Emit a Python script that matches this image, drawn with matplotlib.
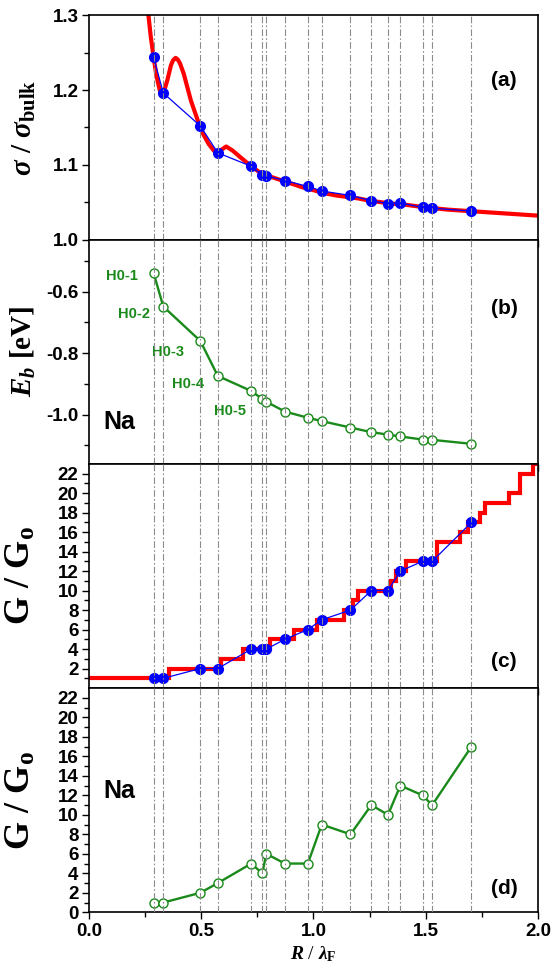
import numpy as np
import matplotlib
matplotlib.use('Agg')
import matplotlib.pyplot as plt
from matplotlib.ticker import FixedLocator, FormatStrFormatter

plt.rcParams['font.family'] = ['Liberation Sans', 'DejaVu Sans']
plt.rcParams['font.weight'] = 'bold'
plt.rcParams['axes.unicode_minus'] = False
plt.rcParams['mathtext.fontset'] = 'custom'
plt.rcParams['mathtext.rm'] = 'Liberation Serif:bold'
plt.rcParams['mathtext.it'] = 'Liberation Serif:italic:bold'
plt.rcParams['mathtext.bf'] = 'Liberation Serif:bold'

# wire radii R / lambda_F of the stable structures
r_wire = [0.288, 0.331, 0.496, 0.574, 0.723, 0.772, 0.790, 0.873, 0.975,
          1.037, 1.165, 1.258, 1.332, 1.387, 1.486, 1.529, 1.704]

# (a) sigma / sigma_bulk
sig_wire = [1.244, 1.196, 1.152, 1.116, 1.098, 1.086, 1.085, 1.079, 1.071,
            1.065, 1.059, 1.052, 1.048, 1.049, 1.043, 1.042, 1.038]
sig_r = [0.265, 0.275, 0.288, 0.300, 0.315, 0.331, 0.349, 0.365, 0.375, 0.386,
         0.395, 0.405, 0.422, 0.454, 0.485, 0.509, 0.533, 0.556, 0.574, 0.590,
         0.611, 0.640, 0.675, 0.723, 0.760, 0.800, 0.850, 0.900, 0.950, 1.000,
         1.050, 1.100, 1.150, 1.200, 1.250, 1.300, 1.350, 1.400, 1.450, 1.500,
         1.600, 1.700, 1.800, 1.900, 2.000]
sig_curve = [1.300, 1.272, 1.244, 1.220, 1.200, 1.195, 1.213, 1.233, 1.240, 1.243,
             1.241, 1.236, 1.222, 1.186, 1.159, 1.141, 1.128, 1.119, 1.116, 1.120,
             1.1245, 1.119, 1.110, 1.098, 1.090, 1.085, 1.080, 1.075, 1.070, 1.066,
             1.062, 1.059, 1.057, 1.055, 1.052, 1.050, 1.048, 1.047, 1.045, 1.043,
             1.040, 1.038, 1.036, 1.034, 1.032]

# (b) binding energy
eb = [-0.539, -0.648, -0.760, -0.874, -0.923, -0.949, -0.958, -0.990, -1.010,
      -1.021, -1.042, -1.057, -1.065, -1.071, -1.081, -1.082, -1.095]
h_names = ['H0-1', 'H0-2', 'H0-3', 'H0-4', 'H0-5']
h_x = [0.147, 0.202, 0.352, 0.443, 0.628]
h_y = [-0.548, -0.671, -0.795, -0.900, -0.987]

# (c) conductance
g_wire = [1, 1, 2, 2, 4, 4, 4, 5, 6, 7, 8, 10, 10, 12, 13, 13, 17]
g_edges = [0, 0.356, 0.588, 0.688, 0.806, 0.912, 1.014, 1.136, 1.177, 1.200,
           1.345, 1.366, 1.414, 1.551, 1.651, 1.689, 1.742, 1.765, 1.872,
           1.922, 1.979, 2.0]
g_steps = [1, 2, 3, 4, 5, 6, 7, 8, 9, 10, 11, 12, 13, 15, 16, 17, 18, 19, 20, 22, 23]

# (d) conductance, Na
g_na = [1, 1, 2, 3, 5, 4, 6, 5, 5, 9, 8, 11, 10, 13, 12, 11, 17]

green = '#1a8a1a'
vcol = '#8c8c8c'

fig, axes = plt.subplots(4, 1, figsize=(5.54, 9.75), dpi=100, sharex=True)
fig.subplots_adjust(left=0.1606, right=0.971, top=0.9843, bottom=0.0643, hspace=0)
ax1, ax2, ax3, ax4 = axes

# Plotting
ax1.plot(sig_r, sig_curve, color='red', lw=3, zorder=2, solid_capstyle='round')
ax1.plot(r_wire, sig_wire, color='blue', lw=0.9, marker='o', ms=7, zorder=3)

ax2.plot(r_wire, eb, color=green, lw=1.7, marker='o', ms=6.5, mfc='white',
         mec=green, mew=1, zorder=3)
for name, x, y in zip(h_names, h_x, h_y):
    ax2.text(x, y, name, color=green, fontsize=10.5, ha='center', va='center')

ax3.stairs(g_steps, g_edges, color='red', lw=3, baseline=None, zorder=2)
ax3.plot(r_wire, g_wire, color='blue', lw=0.9, marker='o', ms=7, zorder=3)

ax4.plot(r_wire, g_na, color=green, lw=1.7, marker='o', ms=6.5, mfc='white',
         mec=green, mew=1, zorder=3)

for ax in axes:
    for r in r_wire:
        ax.axvline(r, color=vcol, lw=0.8, ls=(0, (6, 2, 1.5, 2)), zorder=4)
    ax.set_xlim(0, 2.0)
    ax.xaxis.set_major_locator(FixedLocator([0, 0.5, 1.0, 1.5, 2.0]))
    ax.xaxis.set_minor_locator(FixedLocator([0.25, 0.75, 1.25, 1.75]))
    ax.xaxis.set_major_formatter(FormatStrFormatter('%.1f'))
    ax.tick_params(which='both', direction='out', top=False, right=False,
                   labelsize=13.5, width=1, pad=2.5)
    ax.tick_params(which='major', length=5)
    ax.tick_params(which='minor', length=3.5)
    for s in ax.spines.values():
        s.set_linewidth(1.2)
    ax.yaxis.set_label_coords(-0.114, 0.5)

ax1.set_ylim(1.0, 1.3)
ax1.yaxis.set_major_locator(FixedLocator([1.0, 1.1, 1.2, 1.3]))
ax1.yaxis.set_minor_locator(FixedLocator([1.05, 1.15, 1.25]))
ax1.yaxis.set_major_formatter(FormatStrFormatter('%.1f'))
ax1.set_ylabel(r'$\sigma\ /\ \sigma_{\mathrm{bulk}}$', fontsize=21)
ax1.text(1.85, 1.213, '(a)', fontsize=15, ha='center', va='center')

ax2.set_ylim(-1.16, -0.43)
ax2.yaxis.set_major_locator(FixedLocator([-1.0, -0.8, -0.6]))
ax2.yaxis.set_minor_locator(FixedLocator([-1.1, -0.9, -0.7, -0.5]))
ax2.yaxis.set_major_formatter(FormatStrFormatter('%.1f'))
ax2.set_ylabel(r'$E_b\ \mathrm{[eV]}$', fontsize=21)
ax2.text(1.85, -0.654, '(b)', fontsize=15, ha='center', va='center')
ax2.text(0.136, -1.025, 'Na', fontsize=18, ha='center', va='center')

for ax in (ax3, ax4):
    ax.set_ylim(0, 23)
    ax.yaxis.set_minor_locator(FixedLocator(list(range(1, 23, 2))))
    ax.set_ylabel(r'$\mathrm{G\ /\ G_o}$', fontsize=26)
ax3.yaxis.set_major_locator(FixedLocator(list(range(2, 23, 2))))
ax4.yaxis.set_major_locator(FixedLocator(list(range(0, 23, 2))))
ax3.text(1.85, 2.75, '(c)', fontsize=15, ha='center', va='center')
ax4.text(1.85, 2.4, '(d)', fontsize=15, ha='center', va='center')
ax4.text(0.136, 12.45, 'Na', fontsize=18, ha='center', va='center')

ax4.set_xlabel(r'$R$ / $\lambda_{\mathrm{F}}$', fontsize=14,
               family=['Liberation Serif'], labelpad=3)

fig.savefig('out.png', dpi=100)
